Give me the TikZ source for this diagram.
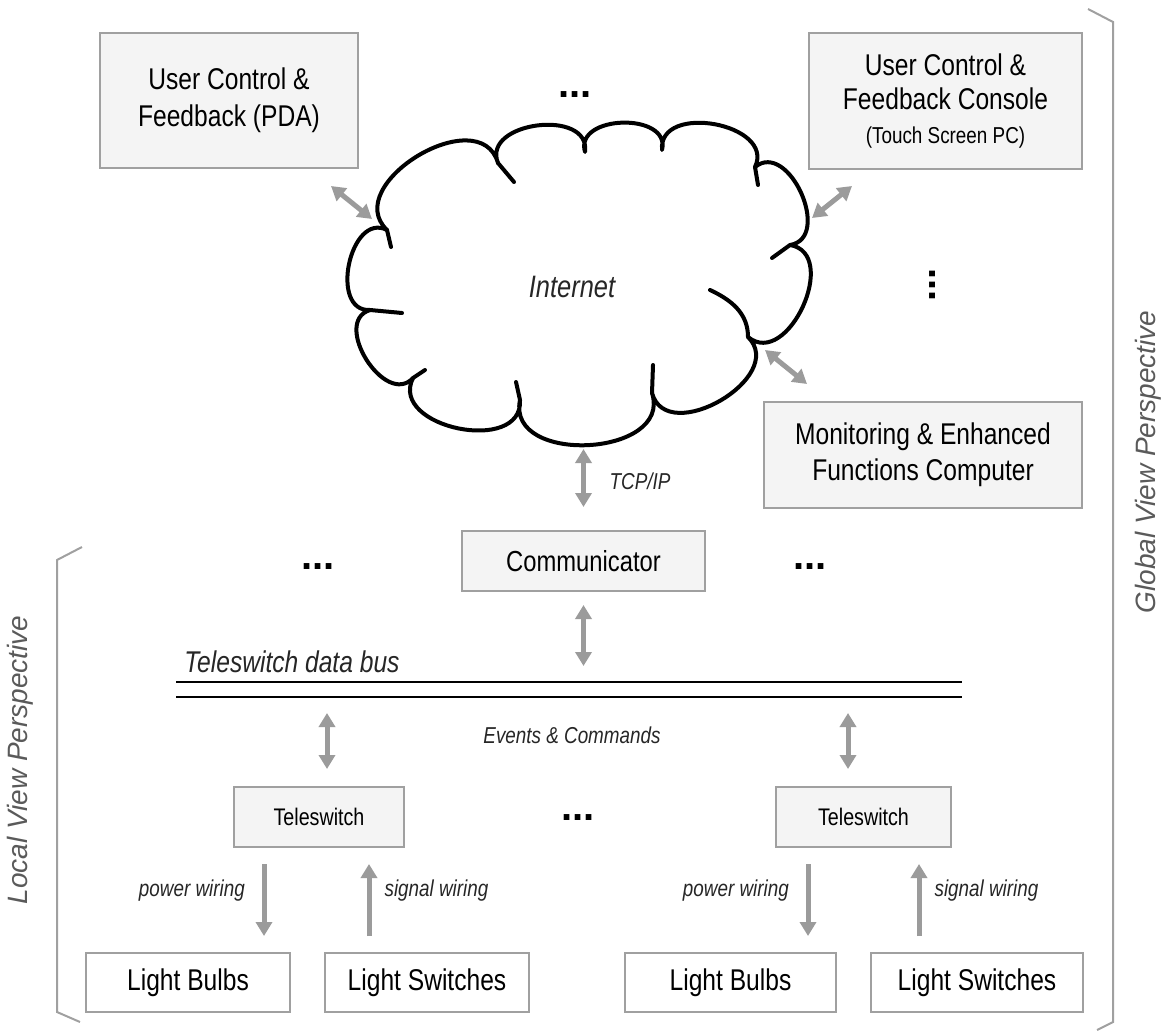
\documentclass[tikz,border=0pt]{standalone}
\usepackage{fontspec}
\setmainfont{Liberation Sans}[FakeStretch=0.82]
\newfontfamily\dotfont{Liberation Sans}
\newfontfamily\sidefont{Liberation Sans}
\usetikzlibrary{positioning, arrows.meta}
\definecolor{boxgray}{HTML}{F4F4F4}
\definecolor{edgegray}{HTML}{A0A0A0}
\definecolor{arrowgray}{HTML}{9B9B9B}
\definecolor{sidegray}{HTML}{5A5A5A}

\begin{document}
\begin{tikzpicture}[x=0.5pt, y=0.5pt,
	unit/.style={draw=edgegray, line width=1pt, fill=boxgray, align=center, inner sep=0pt, font=\fontsize{15}{18.5}\selectfont},
	leaf/.style={draw=edgegray, line width=1pt, fill=white, inner sep=0pt, minimum width=102pt, minimum height=29.5pt, font=\fontsize{15}{18}\selectfont},
	link/.style={draw=arrowgray, line width=2.5pt, {Triangle[width=8pt,length=7pt]}-{Triangle[width=8pt,length=7pt]}},
	wire/.style={draw=arrowgray, line width=2.5pt, -{Triangle[width=8pt,length=7pt]}},
	lbl/.style={font=\fontsize{11.5}{13}\selectfont\itshape, text=black!85},
	ellip/.style={font=\dotfont\fontsize{20}{20}\selectfont\bfseries, inner sep=0pt},
	bracket/.style={draw=edgegray, line width=1pt},
	side/.style={font=\sidefont\fontsize{14}{16}\selectfont\itshape, text=sidegray, rotate=90},
	puff/.style={bend left=105, looseness=1.3},
	cloudline/.style={line width=2pt, line cap=round, line join=round}]
	\useasboundingbox (0,0) rectangle (1170,1030);

	% the internet
	\draw[cloudline] (387,800) to[puff] (498,867) to[puff] (585,878) to[puff] (662,880)
		to[puff] (755,863) to[puff] (790,785) to[puff] (748,693) to[puff] (652,637)
		to[puff] (520,630) to[puff] (413,652) to[puff] (370,720) to[puff] (387,800);
	\draw[cloudline] (387,800) -- (391,783) (498,867) -- (514,848) (755,863) -- (758,845)
		(790,785) -- (772,772) (652,637) -- (653,665) (520,630) -- (516,648)
		(413,652) -- (425,660) (370,720) -- (402,717);
	\draw[cloudline] (710,740) to[out=-25,in=90] (748,693);
	\node[font=\fontsize{15.5}{18}\selectfont\itshape, text=black!85] (internet) at (572,743) {Internet};
	\coordinate (cloudNW) at (372,811);
	\coordinate (cloudNE) at (812,812);
	\coordinate (cloudSE) at (765,680);
	\coordinate (cloudS) at (583.5,597);

	% global side
	\node[unit, minimum width=129pt, minimum height=67.5pt] (pda) at (229,929.5) {User Control \&\\Feedback (PDA)};
	\node[unit, minimum width=136.5pt, minimum height=68pt, font=\fontsize{15}{17}\selectfont] (console) at (945.5,929) {User Control \&\\Feedback Console\\{\fontsize{11.5}{14}\selectfont(Touch Screen PC)}};
	\node[unit, minimum width=159pt, minimum height=53pt, font=\fontsize{15}{18}\selectfont] (monitor) at (923,575) {Monitoring \& Enhanced\\Functions Computer};
	\node[unit, minimum width=121.5pt, minimum height=30pt, font=\fontsize{14.5}{16}\selectfont] (comm) at (583.5,469) {Communicator};

	\node[ellip] (moreTop) at (575,935) {...};
	\node[ellip, rotate=90] (moreSide) at (933,745) {...};
	\node[ellip] (moreLeft) at (318,463) {...};
	\node[ellip] (moreRight) at (810,463) {...};

	\path[link] ([shift={(-28,-17)}]pda.south east) -- (cloudNW);
	\path[link] ([shift={(44,-16)}]console.south west) -- (cloudNE);
	\path[link] (cloudSE) -- ([shift={(44,17)}]monitor.north west);
	\path[link, shorten <=11.5pt, shorten >=8pt] (comm) -- (cloudS) node[lbl, midway, right=8.5pt] {TCP/IP};

	% data bus
	\coordinate (busA) at (176,348);
	\coordinate (busB) at (962,348);
	\coordinate (busC) at (176,333);
	\coordinate (busD) at (962,333);
	\draw[line width=1pt] (busA) -- (busB) (busC) -- (busD);
	\node[font=\fontsize{15}{18}\selectfont\itshape, text=black!85, anchor=base west, inner sep=0pt] (busname) at (184,358) {Teleswitch data bus};
	\path[link, shorten <=6.5pt, shorten >=8pt] (comm) -- (comm |- busA);
	\node[lbl] (events) at (572,295) {Events \& Commands};

	% local side
	\node[unit, minimum width=85pt, minimum height=30pt, font=\fontsize{12}{14}\selectfont] (ts1) at (319,213) {Teleswitch};
	\node[unit, minimum width=87.5pt, minimum height=30pt, font=\fontsize{12}{14}\selectfont] (ts2) at (863.5,213) {Teleswitch};
	\node[ellip] (moreMid) at (578,212) {...};
	\path[link, shorten <=8pt, shorten >=8.5pt] ([xshift=4pt]ts1.north |- busC) -- ([xshift=4pt]ts1.north);
	\path[link, shorten <=8pt, shorten >=8.5pt] ([xshift=-7.75pt]ts2.north |- busC) -- ([xshift=-7.75pt]ts2.north);

	\node[leaf] (bulbs1) at (188,47.5) {Light Bulbs};
	\node[leaf, right=16.5pt of bulbs1] (switches1) {Light Switches};
	\node[leaf, minimum width=105.5pt] (bulbs2) at (730.5,47.5) {Light Bulbs};
	\node[leaf, minimum width=106pt, right=16.5pt of bulbs2] (switches2) {Light Switches};

	\path[wire, shorten <=8pt, shorten >=8pt] ([xshift=-13.5pt]bulbs1.north east |- ts1.south) -- ([xshift=-13.5pt]bulbs1.north east) node[lbl, pos=0.41, left=5pt] {power wiring};
	\path[wire, shorten <=8pt, shorten >=8pt] ([xshift=22.5pt]switches1.north west) -- ([xshift=22.5pt]switches1.north west |- ts1.south) node[lbl, pos=0.59, right=3.2pt] {signal wiring};
	\path[wire, shorten <=8pt, shorten >=8pt] ([xshift=-14.5pt]bulbs2.north east |- ts2.south) -- ([xshift=-14.5pt]bulbs2.north east) node[lbl, pos=0.41, left=5pt] {power wiring};
	\path[wire, shorten <=8pt, shorten >=8pt] ([xshift=24.5pt]switches2.north west) -- ([xshift=24.5pt]switches2.north west |- ts2.south) node[lbl, pos=0.59, right=3.2pt] {signal wiring};

	% perspectives
	\coordinate (gTop) at (1088,1021);
	\coordinate (gBot) at (1097,0);
	\draw[bracket] (gTop) -- (1113,1008) -- (1113,8) -- (gBot);
	\coordinate (lTop) at (82,483);
	\coordinate (lBot) at (80,8);
	\draw[bracket] (lTop) -- (57,470) -- (57,18) -- (lBot);
	\node[side] (globalview) at (1148,568) {Global View Perspective};
	\node[side] (localview) at (20,270) {Local View Perspective};
\end{tikzpicture}
\end{document}
